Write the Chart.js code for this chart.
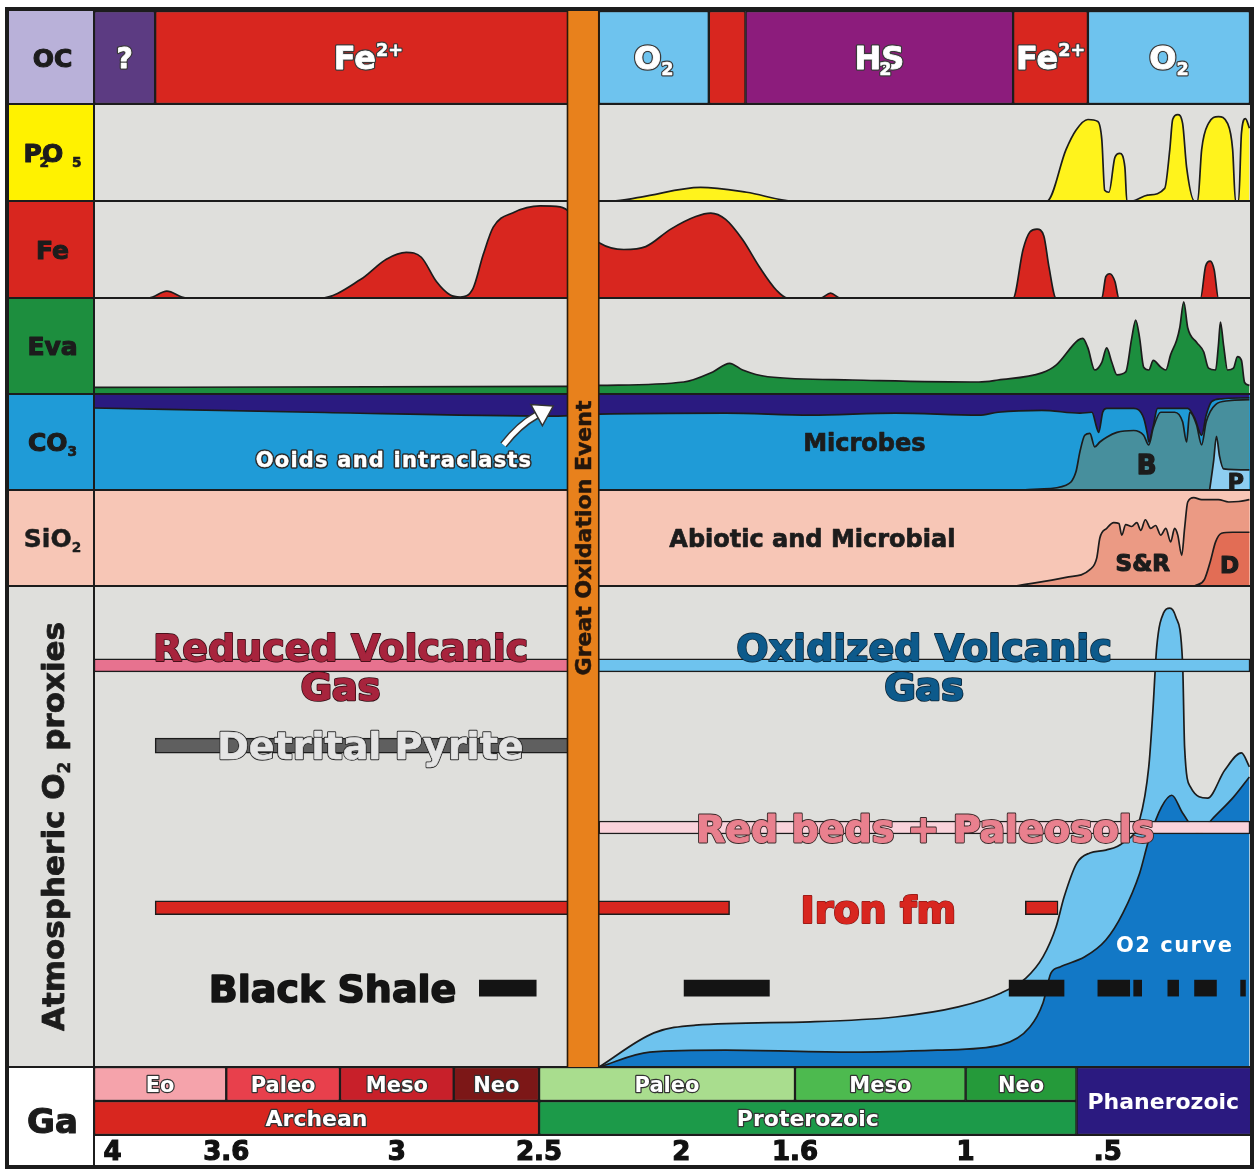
<!DOCTYPE html>
<html>
<head>
<meta charset="utf-8">
<title>Marine chemistry and atmospheric oxygen through Earth history</title>
<script src="https://cdn.jsdelivr.net/npm/chart.js@4.4.1/dist/chart.umd.min.js"></script>
<style>
  html, body { margin: 0; padding: 0; background: #ffffff; }
  canvas { display: block; }
</style>
</head>
<body>
<canvas id="chart" width="1259" height="1171"></canvas>
<script>
// ---------- time axis (Ga, reversed) ----------
const gaTicks = [4, 3.6, 3, 2.5, 2, 1.6, 1, 0.5];
const gaTickLabels = ['4', '3.6', '3', '2.5', '2', '1.6', '1', '.5'];
const gaRange = [0, 4.065];

// Great Oxidation Event
const goeRange = [2.4, 2.29];

// ---------- ocean chemistry (OC) ----------
const oceanLabels = ['?', 'Fe2+', 'O2', '', 'H2S', 'Fe2+', 'O2'];
const oceanStart  = [4.065, 3.85, 2.29, 1.903, 1.774, 0.833, 0.57];
const oceanEnd    = [3.85, 2.35, 1.903, 1.774, 0.833, 0.57, 0];

// ---------- geological time scale ----------
const eraNames  = ['Eo', 'Paleo', 'Meso', 'Neo', 'Paleo', 'Meso', 'Neo'];
const eraBounds = [4.065, 3.6, 3.2, 2.8, 2.5, 1.6, 1.0, 0.61];
const eonNames  = ['Archean', 'Proterozoic'];
const eonBounds = [4.065, 2.5, 0.61];
const phanerozoicSpan = [0.61, 0];

// ---------- phosphorites (P2O5), relative abundance ----------
const poGa  = [2.29, 2.244, 2.142, 1.932, 1.77, 1.605, 0.714, 0.647, 0.612, 0.57, 0.535, 0.521, 0.511, 0.496, 0.475, 0.458, 0.44, 0.433,
               0.416, 0.36, 0.3, 0.282, 0.272, 0.254, 0.237, 0.223, 0.195, 0.184, 0.17, 0.146, 0.111, 0.079, 0.061, 0.051, 0.04, 0.03, 0.016, 0.002];
const poVal = [0, 0, 0.04, 0.14, 0.09, 0, 0, 0.53, 0.73, 0.84, 0.82, 0.63, 0.11, 0.09, 0.45, 0.49, 0.35, 0,
               0, 0.06, 0.13, 0.53, 0.84, 0.89, 0.8, 0.35, 0, 0, 0.53, 0.8, 0.87, 0.8, 0.53, 0, 0, 0.7, 0.85, 0.75];

// ---------- iron formations (Fe) ----------
const feGa  = [4.065, 3.872, 3.809, 3.742, 3.268, 3.128, 3.037, 2.967, 2.914, 2.861, 2.812, 2.777, 2.732, 2.696, 2.661, 2.591, 2.496, 2.426,
               2.289, 2.202, 2.125, 2.037, 1.949, 1.896, 1.844, 1.784, 1.725, 1.665, 1.626, 1.511, 1.475, 1.44,
               0.833, 0.798, 0.774, 0.749, 0.725, 0.707, 0.682, 0.521, 0.507, 0.493, 0.475, 0.461, 0.174, 0.156, 0.14, 0.126, 0.111, 0.002];
const feVal = [0, 0, 0.07, 0, 0, 0.19, 0.4, 0.47, 0.42, 0.17, 0.03, 0.01, 0.1, 0.45, 0.73, 0.88, 0.95, 0.94,
               0.57, 0.5, 0.53, 0.71, 0.84, 0.875, 0.81, 0.6, 0.32, 0.08, 0, 0, 0.05, 0,
               0, 0.5, 0.68, 0.71, 0.64, 0.32, 0, 0, 0.22, 0.25, 0.17, 0, 0, 0.33, 0.38, 0.29, 0, 0];

// ---------- evaporites (Eva) ----------
const evaGa  = [4.065, 2.4, 2.289, 1.991, 1.889, 1.83, 1.784, 1.696, 1.398, 0.953, 0.886, 0.732, 0.682, 0.605, 0.588, 0.57, 0.546, 0.521,
                0.504, 0.486, 0.468, 0.437, 0.416, 0.402, 0.388, 0.374, 0.356, 0.34, 0.314, 0.296, 0.279, 0.258, 0.247, 0.233, 0.219,
                0.188, 0.163, 0.146, 0.121, 0.111, 0.104, 0.093, 0.079, 0.058, 0.044, 0.03, 0.019, 0.002];
const evaVal = [0.07, 0.08, 0.09, 0.125, 0.23, 0.32, 0.25, 0.18, 0.146, 0.125, 0.146, 0.22, 0.3, 0.56, 0.58, 0.48, 0.25, 0.33,
                0.48, 0.33, 0.2, 0.23, 0.58, 0.77, 0.58, 0.28, 0.25, 0.35, 0.28, 0.25, 0.41, 0.56, 0.69, 0.96, 0.69,
                0.54, 0.44, 0.27, 0.25, 0.51, 0.75, 0.51, 0.25, 0.27, 0.39, 0.35, 0.12, 0.09];

// ---------- carbonates (CO3) ----------
// lower edge of the ooid / intraclast layer (filled up to the top of the row)
const ooidGa  = [4.065, 3.3, 2.45, 2.289, 1.844, 1.546, 1.247, 0.953, 0.886, 0.732, 0.598, 0.556, 0.539, 0.532, 0.518, 0.504,
                 0.409, 0.374, 0.36, 0.356, 0.342, 0.325, 0.219, 0.195, 0.17, 0.154, 0.135, 0.1, 0.002];
const ooidVal = [0.854, 0.81, 0.77, 0.79, 0.8, 0.78, 0.8, 0.78, 0.81, 0.83, 0.8, 0.81, 0.65, 0.6, 0.81, 0.85,
                 0.85, 0.75, 0.57, 0.5, 0.64, 0.85, 0.85, 0.75, 0.57, 0.78, 0.92, 0.95, 0.96];
// biogenic carbonate (B)
const bioGa  = [0.8, 0.742, 0.647, 0.612, 0.598, 0.581, 0.563, 0.546, 0.528, 0.504, 0.468, 0.409, 0.374, 0.356, 0.34, 0.314,
                0.265, 0.237, 0.223, 0.212, 0.188, 0.17, 0.154, 0.121, 0.075, 0.002];
const bioVal = [0, 0.01, 0.05, 0.19, 0.4, 0.57, 0.59, 0.45, 0.5, 0.55, 0.6, 0.62, 0.57, 0.47, 0.65, 0.81,
                0.81, 0.71, 0.5, 0.81, 0.68, 0.47, 0.71, 0.89, 0.93, 0.94];
// pelagic carbonate (P)
const pelGa  = [0.142, 0.128, 0.118, 0.107, 0.093, 0.002];
const pelVal = [0, 0.3, 0.56, 0.35, 0.22, 0.21];

// ---------- cherts (SiO2) ----------
const srGa  = [0.826, 0.647, 0.563, 0.539, 0.528, 0.504, 0.479, 0.461, 0.451, 0.437, 0.416, 0.398, 0.384, 0.368, 0.349, 0.332,
               0.314, 0.296, 0.279, 0.265, 0.254, 0.24, 0.23, 0.219, 0.198, 0.17, 0.111, 0.075, 0.04, 0.002];
const srVal = [0, 0.09, 0.17, 0.29, 0.5, 0.6, 0.66, 0.65, 0.53, 0.64, 0.62, 0.66, 0.58, 0.69, 0.6, 0.63,
               0.53, 0.6, 0.46, 0.6, 0.53, 0.32, 0.6, 0.875, 0.92, 0.9, 0.9, 0.875, 0.88, 0.9];
const dGa   = [0.195, 0.16, 0.14, 0.121, 0.1, 0.061, 0.002];
const dVal  = [0, 0.07, 0.25, 0.46, 0.55, 0.56, 0.56];

// ---------- atmospheric O2 curve (0-100 of the proxy panel) ----------
const o2UpperGa  = [2.289, 2.096, 1.949, 1.546, 1.247, 1.026, 0.875, 0.788, 0.728, 0.682, 0.654, 0.609, 0.563, 0.507, 0.447, 0.388,
                    0.356, 0.342, 0.328, 0.304, 0.282, 0.261, 0.237, 0.23, 0.209, 0.149, 0.089, 0.03, 0.002];
const o2UpperVal = [0, 7.1, 8.7, 9.4, 10.4, 12.5, 15.4, 18.5, 22.9, 29.1, 35.3, 42.4, 44.5, 45.1, 46.6, 51.4,
                    62.4, 73.6, 87.3, 94.4, 95.4, 93.6, 84, 66.5, 58.2, 55.9, 61.7, 65.3, 62.4];
const o2LowerGa  = [2.289, 2.111, 1.844, 1.398, 1.1, 0.875, 0.774, 0.728, 0.7, 0.668, 0.581, 0.507, 0.447, 0.388, 0.356, 0.311,
                    0.275, 0.237, 0.177, 0.135, 0.058, 0.002];
const o2LowerVal = [0, 3.1, 3.5, 3.1, 3.5, 4.6, 8.3, 13.3, 19.5, 20.8, 22.9, 26.4, 32, 40.3, 47.2, 54.1,
                    56.5, 52.8, 48.6, 51.4, 56.1, 60.3];

// ---------- O2 proxies: occurrence intervals (Ga) and lanes ----------
const reducedGasSpans     = [[4.065, 2.35]];
const oxidizedGasSpans    = [[2.35, 0]];
const detritalPyriteSpans = [[3.85, 2.35]];
const redBedsSpans        = [[2.29, 0]];
const ironFmSpans         = [[3.85, 1.83], [0.79, 0.675]];
const blackShaleSpans     = [[2.71, 2.51], [1.99, 1.69], [0.847, 0.654], [0.535, 0.423], [0.409, 0.381], [0.289, 0.251], [0.195, 0.118], [0.033, 0.016]];
const proxyLanes = { gas: 83.5, pyrite: 66.8, redBeds: 49.8, ironFm: 33.1, blackShale: 16.4 };

// ---------- styling ----------
const FONT_FAMILY = '"DejaVu Sans", "Liberation Sans", Arial, sans-serif';
const INK = '#1c1c1c';
const GREY = '#dfdfdc';
const oceanColors = ['#5c3b82', '#d8261f', '#6ec3ee', '#d8261f', '#8c1c7c', '#d8261f', '#6ec3ee'];
const eraColors = ['#f5a3ab', '#e8404c', '#c8202a', '#7c1717', '#a9dd8e', '#4dba4f', '#259a3a'];
const eonColors = ['#d8261f', '#1c9a49'];
const phanerozoicColor = '#2b1a80';

// rows, top to bottom; stackWeight = relative height
const ROWS = [
  { id: 'yOC',   weight: 93,  category: ['OC'],         cell: '#b9b1d9', bg: null,      label: [['OC']] },
  { id: 'yPO',   weight: 97,  max: 1, cell: '#fff200', bg: GREY,      label: [['P'], ['O'], ['2', 'sub', -0.95, false], ['5', 'sub', 0.35]] },
  { id: 'yFe',   weight: 97,  max: 1, cell: '#d8261f', bg: GREY,      label: [['Fe']] },
  { id: 'yEva',  weight: 96,  max: 1, cell: '#1d8e3e', bg: GREY,      label: [['Eva']] },
  { id: 'yCO3',  weight: 96,  max: 1, cell: '#1f9bd7', bg: '#1f9bd7', label: [['CO'], ['3', 'sub']] },
  { id: 'ySiO2', weight: 96,  max: 1, cell: '#f7c6b6', bg: '#f7c6b6', label: [['SiO'], ['2', 'sub']] },
  { id: 'yO2',   weight: 481, max: 100, cell: GREY,    bg: GREY,      label: [['Atmospheric O'], ['2', 'sub'], [' proxies']], rotate: true, size: 31 },
  { id: 'yGa',   weight: 68,  category: ['era', 'eon'], cell: '#ffffff', bg: null, label: [['Ga']], size: 34 },
];
const FRAME = { left: 7, top: 9, right: 1252, bottom: 1167 };

// text placed in data coordinates of a row
const notes = [
  { axis: 'yCO3',  at: [3.01, 0.32],  parts: [['Ooids and intraclasts']], size: 21, fill: '#ffffff', stroke: '#2b2b2b', lw: 3, spacing: 1.2, heavy: 0.4 },
  { axis: 'yCO3',  at: [1.356, 0.5],  parts: [['Microbes']], size: 24, fill: INK, heavy: 0.7 },
  { axis: 'yCO3',  at: [0.363, 0.26], parts: [['B']], size: 26, fill: INK, heavy: 1.4 },
  { axis: 'yCO3',  at: [0.05, 0.09],  parts: [['P']], size: 22, fill: INK, heavy: 1.2 },
  { axis: 'ySiO2', at: [1.539, 0.5],  parts: [['Abiotic and Microbial']], size: 24, fill: INK, heavy: 0.7 },
  { axis: 'ySiO2', at: [0.377, 0.24], parts: [['S&R']], size: 23, fill: INK, heavy: 1.2 },
  { axis: 'ySiO2', at: [0.072, 0.22], parts: [['D']], size: 23, fill: INK, heavy: 1.2 },
  { axis: 'yO2', at: [3.198, 87.2], parts: [['Reduced Volcanic']], size: 38, fill: '#a7243d', stroke: '#2a0a10', lw: 1.3, heavy: 0.6 },
  { axis: 'yO2', at: [3.198, 79.2], parts: [['Gas']], size: 38, fill: '#a7243d', stroke: '#2a0a10', lw: 1.5, heavy: 1.2 },
  { axis: 'yO2', at: [1.146, 87.2], parts: [['Oxidized Volcanic']], size: 38, fill: '#0d5a8b', stroke: '#0a2030', lw: 1.3, heavy: 0.6 },
  { axis: 'yO2', at: [1.146, 79.2], parts: [['Gas']], size: 38, fill: '#0d5a8b', stroke: '#0a2030', lw: 1.5, heavy: 1.2 },
  { axis: 'yO2', at: [3.093, 66.9], parts: [['Detrital Pyrite']], size: 38, fill: '#e4e4e4', stroke: '#2a2a2a', lw: 1.8, heavy: 0.6 },
  { axis: 'yO2', at: [1.142, 49.7], parts: [['Red beds + Paleosols']], size: 38, fill: '#e9808e', stroke: '#3a2a2a', lw: 1.8, heavy: 1.0 },
  { axis: 'yO2', at: [1.307, 32.8], parts: [['Iron fm']], size: 38, fill: '#d8261f', stroke: '#6a1010', lw: 1, heavy: 1.2 },
  { axis: 'yO2', at: [3.226, 16.4], parts: [['Black Shale']], size: 38, fill: '#141414', heavy: 1.6 },
  { axis: 'yO2', at: [0.265, 25.4], parts: [['O2 curve']], size: 21, fill: '#ffffff', spacing: 1.5 },
];
// curved pointer from the ooid label to the ooid layer
const ooidArrow = { axis: 'yCO3', from: [2.625, 0.47], via: [2.57, 0.68], to: [2.45, 0.875] };

// ---------- helpers ----------
const font = (size) => `bold ${size}px ${FONT_FAMILY}`;
const series = (ga, val) => ga.map((g, i) => ({ x: g, y: val[i] }));
const spans = (list, lane) => list.map(s => ({ x: s, y: lane }));

// draws a run of text parts (normal / sub / sup) centred on (cx, cy);
// "heavy" thickens the glyphs with a stroke in the fill colour
function drawParts(ctx, parts, cx, cy, size, fill, stroke, lw, spacing, heavy) {
  ctx.save();
  ctx.letterSpacing = (spacing || 0) + 'px';
  const items = parts.map(p => {
    const [t, kind = 'n', dx = 0, adv = true] = p;
    const s = kind === 'n' ? size : size * 0.55;
    ctx.font = font(s);
    return { t, kind, s, dx: dx * size, adv, w: ctx.measureText(t).width };
  });
  let total = 0;
  for (const it of items) if (it.adv) total += it.w + it.dx;
  let x = cx - total / 2;
  const base = cy + size * 0.36;
  const hv = heavy || 0;
  ctx.textAlign = 'left';
  ctx.textBaseline = 'alphabetic';
  ctx.lineJoin = 'round';
  for (const it of items) {
    const px = x + it.dx;
    const py = it.kind === 'sub' ? base + size * 0.2 : it.kind === 'sup' ? base - size * 0.42 : base;
    const k = it.kind === 'n' ? 1 : 0.6;
    ctx.font = font(it.s);
    if (stroke) { ctx.lineWidth = lw + hv * k; ctx.strokeStyle = stroke; ctx.strokeText(it.t, px, py); }
    if (hv) { ctx.lineWidth = hv * k; ctx.strokeStyle = fill; ctx.strokeText(it.t, px, py); }
    ctx.fillStyle = fill;
    ctx.fillText(it.t, px, py);
    if (it.adv) x = px + it.w;
  }
  ctx.restore();
}

function chemParts(label) {
  if (label === 'Fe2+') return [['Fe'], ['2+', 'sup']];
  if (label === 'O2') return [['O'], ['2', 'sub']];
  if (label === 'H2S') return [['H'], ['S'], ['2', 'sub', -0.78, false]];
  return [[label]];
}

function area(axis, ga, val, color, order, fill) {
  return {
    type: 'line', xAxisID: 'x', yAxisID: axis, data: series(ga, val),
    backgroundColor: color, borderColor: INK, borderWidth: 1.7, borderJoinStyle: 'round',
    fill: fill || 'origin', pointRadius: 0, pointHoverRadius: 0,
    cubicInterpolationMode: 'monotone', order
  };
}
function bars(axis, data, colors, order, extra) {
  return Object.assign({
    type: 'bar', indexAxis: 'y', xAxisID: 'x', yAxisID: axis, data,
    backgroundColor: colors, borderColor: INK, borderWidth: 1.5, borderSkipped: false,
    grouped: false, barPercentage: 1, categoryPercentage: 1, order
  }, extra || {});
}

// ---------- scales ----------
const scales = {
  x: {
    type: 'linear', position: 'bottom', reverse: true, min: gaRange[0], max: gaRange[1], offset: false,
    afterBuildTicks: s => { s.ticks = gaTicks.map(v => ({ value: v })); },
    afterFit: s => { s.height = 32; },
    ticks: {
      autoSkip: false, maxRotation: 0, padding: 3, color: '#111',
      textStrokeColor: '#111', textStrokeWidth: 1.2,
      font: { family: FONT_FAMILY, size: 26, weight: 'bold' },
      callback: (v, i) => gaTickLabels[i]
    },
    grid: { display: false, drawTicks: false }, border: { display: false }
  }
};
ROWS.forEach((r, i) => {
  const common = { axis: 'y', position: 'left', stack: 'rows', stackWeight: r.weight, weight: ROWS.length - i, display: false };
  scales[r.id] = r.category
    ? Object.assign({ type: 'category', labels: r.category, offset: true }, common)
    : Object.assign({ type: 'linear', min: 0, max: r.max, offset: false }, common);
});

// ---------- datasets ----------
const datasets = [
  bars('yOC', oceanStart.map((s, i) => ({ x: [s, oceanEnd[i]], y: 'OC' })), oceanColors, 5),
  bars('yGa', eraNames.map((n, i) => ({ x: [eraBounds[i], eraBounds[i + 1]], y: 'era' })), eraColors, 5),
  bars('yGa', eonNames.map((n, i) => ({ x: [eonBounds[i], eonBounds[i + 1]], y: 'eon' })), eonColors, 5),
  bars('yGa', [{ x: phanerozoicSpan, y: 'era' }, { x: phanerozoicSpan, y: 'eon' }], phanerozoicColor, 5, {
    borderWidth: c => c.dataIndex === 0 ? { top: 1.5, left: 1.5, right: 0, bottom: 0 } : { top: 0, left: 1.5, right: 0, bottom: 1.5 }
  }),
  area('yPO', poGa, poVal, '#fff31c', 10),
  area('yFe', feGa, feVal, '#d8261f', 10),
  area('yEva', evaGa, evaVal, '#1c8e3e', 10),
  area('yCO3', ooidGa, ooidVal, '#2a1a80', 10, 'end'),
  area('yCO3', bioGa, bioVal, '#478f9d', 9),
  area('yCO3', pelGa, pelVal, '#8dcdf0', 8),
  area('ySiO2', srGa, srVal, '#eb9a84', 10),
  area('ySiO2', dGa, dVal, '#e26d55', 9),
  area('yO2', o2UpperGa, o2UpperVal, '#6ec3ee', 12),
  area('yO2', o2LowerGa, o2LowerVal, '#1278c6', 11),
  bars('yO2', spans(reducedGasSpans, proxyLanes.gas), '#e7728f', 1, { barThickness: 13 }),
  bars('yO2', spans(oxidizedGasSpans, proxyLanes.gas), '#6ec3ee', 1, { barThickness: 13 }),
  bars('yO2', spans(detritalPyriteSpans, proxyLanes.pyrite), '#5f5f5f', 1, { barThickness: 15 }),
  bars('yO2', spans(redBedsSpans, proxyLanes.redBeds), '#fad3db', 1, { barThickness: 13 }),
  bars('yO2', spans(ironFmSpans, proxyLanes.ironFm), '#d8261f', 1, { barThickness: 14 }),
  bars('yO2', spans(blackShaleSpans, proxyLanes.blackShale), '#141414', 1, { barThickness: 16, borderWidth: 0 }),
];

// ---------- panel frame, labels and annotations ----------
const panelPlugin = {
  id: 'panels',
  beforeDatasetsDraw(chart) {
    const { ctx, chartArea: ca, scales: sc } = chart;
    ctx.save();
    for (const r of ROWS) {
      const s = sc[r.id];
      if (r.bg) { ctx.fillStyle = r.bg; ctx.fillRect(ca.left, s.top, ca.right - ca.left, s.bottom - s.top); }
      const bottom = r.id === 'yGa' ? FRAME.bottom : s.bottom;
      ctx.fillStyle = r.cell;
      ctx.fillRect(FRAME.left, s.top, ca.left - FRAME.left, bottom - s.top);
    }
    ctx.restore();
  },
  afterDatasetsDraw(chart) {
    const { ctx, chartArea: ca, scales: sc } = chart;
    const X = v => sc.x.getPixelForValue(v);
    ctx.save();

    // row dividers
    ctx.strokeStyle = INK;
    ctx.lineWidth = 2;
    ROWS.forEach((r, i) => {
      if (i === 0) return;
      const y = Math.round(sc[r.id].top);
      ctx.beginPath(); ctx.moveTo(FRAME.left, y); ctx.lineTo(ca.right, y); ctx.stroke();
    });
    ctx.beginPath(); ctx.moveTo(ca.left, Math.round(ca.bottom)); ctx.lineTo(ca.right, Math.round(ca.bottom)); ctx.stroke();

    // Great Oxidation Event band
    const gx0 = X(goeRange[0]), gx1 = X(goeRange[1]);
    const gTop = sc.yOC.top, gBot = sc.yO2.bottom;
    ctx.fillStyle = '#e8811c';
    ctx.fillRect(gx0, gTop, gx1 - gx0, gBot - gTop);
    ctx.lineWidth = 1.6;
    ctx.strokeStyle = '#2a1a0a';
    ctx.beginPath();
    ctx.moveTo(gx0, gTop); ctx.lineTo(gx0, gBot);
    ctx.moveTo(gx1, gTop); ctx.lineTo(gx1, gBot);
    ctx.stroke();

    // label column separator and outer frame
    ctx.strokeStyle = INK;
    ctx.lineWidth = 2;
    ctx.beginPath(); ctx.moveTo(ca.left, FRAME.top); ctx.lineTo(ca.left, FRAME.bottom); ctx.stroke();
    ctx.lineWidth = 4;
    ctx.strokeRect(FRAME.left, FRAME.top, FRAME.right - FRAME.left, FRAME.bottom - FRAME.top);

    // row labels
    const colX = (FRAME.left + ca.left) / 2 + 2;
    for (const r of ROWS) {
      const s = sc[r.id];
      const bottom = r.id === 'yGa' ? FRAME.bottom : s.bottom;
      const cy = (s.top + bottom) / 2;
      const size = r.size || 25;
      if (r.rotate) {
        ctx.save();
        ctx.translate(colX, cy);
        ctx.rotate(-Math.PI / 2);
        drawParts(ctx, r.label, 0, 0, size, INK, null, 0, 0, 0.8);
        ctx.restore();
      } else {
        drawParts(ctx, r.label, colX, cy + (r.id === 'yGa' ? 4 : 0), size, INK, null, 0, 0, r.id === 'ySiO2' ? 0.5 : 1.1);
      }
    }

    // ocean chemistry labels
    const ocY = (sc.yOC.top + sc.yOC.bottom) / 2;
    oceanLabels.forEach((lab, i) => {
      if (!lab) return;
      const cx = (X(oceanStart[i]) + X(oceanEnd[i])) / 2;
      drawParts(ctx, chemParts(lab), cx, ocY, lab === '?' ? 28 : 32, '#ffffff', '#3a3a3a', 2.5, 0, 0.8);
    });

    // era / eon / Phanerozoic labels
    const eraY = sc.yGa.getPixelForValue(0), eonY = sc.yGa.getPixelForValue(1);
    eraNames.forEach((n, i) => drawParts(ctx, [[n]], (X(eraBounds[i]) + X(eraBounds[i + 1])) / 2, eraY, 21, '#ffffff', '#333333', 2.5));
    eonNames.forEach((n, i) => drawParts(ctx, [[n]], (X(eonBounds[i]) + X(eonBounds[i + 1])) / 2, eonY, 22, '#ffffff', '#333333', 2.5));
    drawParts(ctx, [['Phanerozoic']], (X(phanerozoicSpan[0]) + X(phanerozoicSpan[1])) / 2, (eraY + eonY) / 2, 22, '#ffffff');

    // annotations inside the panels
    for (const n of notes) {
      const s = sc[n.axis];
      drawParts(ctx, n.parts, X(n.at[0]), s.getPixelForValue(n.at[1]), n.size, n.fill, n.stroke, n.lw, n.spacing, n.heavy);
    }

    // pointer to the ooid layer
    {
      const s = sc[ooidArrow.axis];
      const P = a => ({ x: X(a[0]), y: s.getPixelForValue(a[1]) });
      const p0 = P(ooidArrow.from), p1 = P(ooidArrow.via), p2 = P(ooidArrow.to);
      const ang = Math.atan2(p2.y - p1.y, p2.x - p1.x);
      const hl = 19, hw = 12;
      const b = { x: p2.x - hl * Math.cos(ang), y: p2.y - hl * Math.sin(ang) };
      ctx.lineCap = 'butt';
      ctx.beginPath(); ctx.moveTo(p0.x, p0.y); ctx.quadraticCurveTo(p1.x, p1.y, b.x, b.y);
      ctx.strokeStyle = '#333333'; ctx.lineWidth = 8; ctx.stroke();
      ctx.strokeStyle = '#ffffff'; ctx.lineWidth = 5; ctx.stroke();
      ctx.beginPath();
      ctx.moveTo(p2.x, p2.y);
      ctx.lineTo(b.x + hw * Math.sin(ang), b.y - hw * Math.cos(ang));
      ctx.lineTo(b.x - hw * Math.sin(ang), b.y + hw * Math.cos(ang));
      ctx.closePath();
      ctx.fillStyle = '#ffffff'; ctx.fill();
      ctx.strokeStyle = '#333333'; ctx.lineWidth = 1.5; ctx.stroke();
    }

    // Great Oxidation Event caption
    ctx.save();
    ctx.translate((gx0 + gx1) / 2, (sc.ySiO2.top + sc.ySiO2.bottom) / 2);
    ctx.rotate(-Math.PI / 2);
    drawParts(ctx, [['Great Oxidation Event']], 0, 0, 22, '#24160c', null, 0, 0, 0.5);
    ctx.restore();

    ctx.restore();
  }
};

new Chart(document.getElementById('chart'), {
  type: 'line',
  data: { datasets },
  options: {
    responsive: false,
    animation: false,
    devicePixelRatio: 1,
    events: [],
    layout: { padding: { left: 94, right: 9, top: 11, bottom: 4 } },
    scales,
    plugins: { legend: { display: false }, tooltip: { enabled: false }, title: { display: false } }
  },
  plugins: [panelPlugin]
});
</script>
</body>
</html>
